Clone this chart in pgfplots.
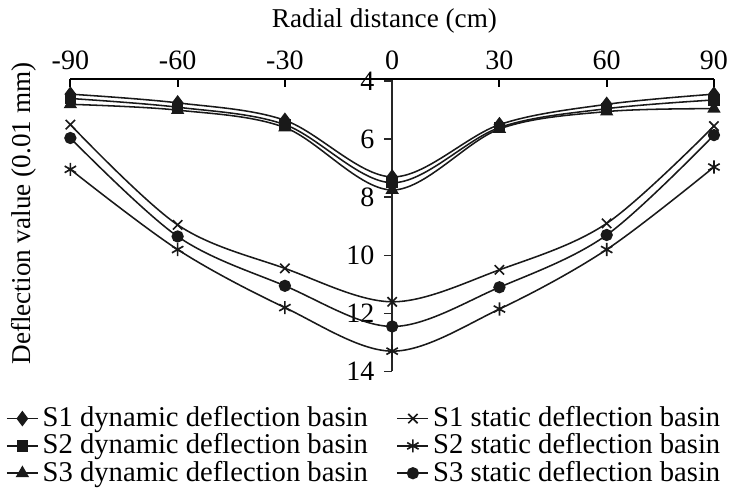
\documentclass[border=0pt]{standalone}
\usepackage{pgfplots}
\pgfplotsset{compat=1.18}
\usetikzlibrary{calc}
\usepackage{fontspec}
\setmainfont{Liberation Serif}
\begin{document}
\fontsize{13.2}{15}\selectfont
\begin{tikzpicture}
\begin{axis}[
  width=312.5pt, height=142pt, scale only axis,
  xmin=-90, xmax=90, ymin=3.93, ymax=14,
  y dir=reverse,
  clip=false,
  axis x line=top, axis y line=center,
  axis line style={-, line width=0.8pt, black!85},
  xtick={-90,-60,-30,0,30,60,90},
  xticklabels={-90,-60,-30,0,30,60,90},
  ytick={4,6,8,10,12,14},
  yticklabels={4,6,8,10,12,14},
  xtick align=inside, ytick align=outside,
  major tick length=4pt,
  tick style={line width=0.8pt, black!85},
  tick label style={font=\fontsize{13.6}{15}\selectfont},
  xlabel={Radial distance (cm)},
  ylabel={Deflection value (0.01 mm)},
  every axis x label/.style={at={(axis description cs:0.488,1)}, yshift=28pt, anchor=center, font=\fontsize{13.2}{15}\selectfont},
  every axis y label/.style={at={(axis description cs:-0.072,0.54)}, rotate=90, anchor=center, font=\fontsize{13.2}{15}\selectfont},
  legend columns=2,
  legend style={at={(axis description cs:-0.11,-0.09)}, anchor=north west, draw=none, fill=none,
    font=\fontsize{13.9}{15}\selectfont, column sep=0pt, row sep=-2.5pt,
    /tikz/every even column/.append style={column sep=12pt}},
  legend cell align=left,
  legend image code/.code={\draw[mark repeat=2, mark phase=2] plot coordinates {(0pt,0pt) (7.5pt,0pt) (15pt,0pt)};},
  every axis plot/.append style={smooth, tension=0.55, line width=0.75pt, black!90},
]
% S1 dynamic
\addplot[mark=diamond*, mark size=3.2pt] coordinates {(-90,4.45)(-60,4.75)(-30,5.35)(0,7.3)(30,5.5)(60,4.8)(90,4.45)};
\addlegendentry{S1 dynamic deflection basin}
% S1 static
\addplot[mark=x, mark size=3.2pt, mark options={line width=0.8pt}] coordinates {(-90,5.5)(-60,8.95)(-30,10.45)(0,11.6)(30,10.5)(60,8.9)(90,5.55)};
\addlegendentry{S1 static deflection basin}
% S2 dynamic
\addplot[mark=square*, mark size=2.4pt] coordinates {(-90,4.6)(-60,4.9)(-30,5.5)(0,7.5)(30,5.6)(60,4.95)(90,4.65)};
\addlegendentry{S2 dynamic deflection basin}
% S2 static
\addplot[mark=asterisk, mark size=3.2pt, mark options={line width=0.8pt}] coordinates {(-90,7.04)(-60,9.8)(-30,11.8)(0,13.3)(30,11.85)(60,9.8)(90,6.96)};
\addlegendentry{S2 static deflection basin}
% S3 dynamic
\addplot[mark=triangle*, mark size=3pt] coordinates {(-90,4.8)(-60,5.0)(-30,5.6)(0,7.75)(30,5.65)(60,5.05)(90,4.95)};
\addlegendentry{S3 dynamic deflection basin}
% S3 static
\addplot[mark=*, mark size=2.6pt] coordinates {(-90,5.96)(-60,9.35)(-30,11.05)(0,12.45)(30,11.1)(60,9.3)(90,5.86)};
\addlegendentry{S3 static deflection basin}
\end{axis}
\draw[line width=1.1pt, black] (current axis.north west) -- (current axis.north east);
\foreach \f in {0,0.16667,0.33333,0.66667,0.83333,1} {
  \draw[line width=1pt, black] ($(current axis.north west)!\f!(current axis.north east)$) -- ++(0pt,-4pt);
}
\end{tikzpicture}
\end{document}
